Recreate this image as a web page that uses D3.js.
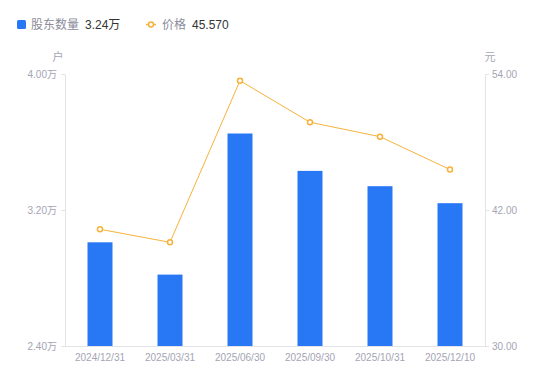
<!DOCTYPE html>
<html>
<head>
<meta charset="utf-8">
<script src="https://cdn.jsdelivr.net/npm/d3@7/dist/d3.min.js"></script>
<style>
  body { margin: 0; background: #fff; }
  svg { font-family: "Liberation Sans", "Noto Sans CJK SC", sans-serif; }
</style>
</head>
<body>
<svg width="550" height="381"></svg>
<script>
const svg = d3.select('svg');

// data
const dates = ['2024/12/31', '2025/03/31', '2025/06/30', '2025/09/30', '2025/10/31', '2025/12/10'];
const holders = [3.01, 2.82, 3.65, 3.43, 3.34, 3.24]; // 万户
const prices = [40.30, 39.15, 53.41, 49.74, 48.47, 45.57];
const leftTicks = [2.4, 3.2, 4.0];
const rightTicks = [30, 42, 54];

const barColor = '#2878f5';
const lineColor = '#f7b23b';
const labelColor = '#a4a4b4';
const axisColor = '#e3e3e8';

const plotLeft = 65, plotRight = 485, plotTop = 74, plotBottom = 346;

const x = d3.scaleBand()
    .domain(dates)
    .range([plotLeft, plotRight])
    .paddingInner(0.643)
    .paddingOuter(0.3215);

const yL = d3.scaleLinear().domain([2.4, 4.0]).range([plotBottom, plotTop]);
const yR = d3.scaleLinear().domain([30, 54]).range([plotBottom, plotTop]);

// axes
const leftAxis = svg.append('g')
    .attr('transform', `translate(${plotLeft},0)`)
    .call(d3.axisLeft(yL).tickValues(leftTicks).tickSize(4).tickPadding(4)
        .tickFormat(d => d3.format('.2f')(d) + '万'));

const rightAxis = svg.append('g')
    .attr('transform', `translate(${plotRight},0)`)
    .call(d3.axisRight(yR).tickValues(rightTicks).tickSize(4).tickPadding(3)
        .tickFormat(d3.format('.2f')));

const bottomAxis = svg.append('g')
    .attr('transform', `translate(0,${plotBottom})`)
    .call(d3.axisBottom(x).tickSize(0).tickPadding(8));

[leftAxis, rightAxis, bottomAxis].forEach(g => {
    g.select('.domain').attr('stroke', axisColor);
    g.selectAll('.tick line').attr('stroke', axisColor);
    g.selectAll('.tick text')
        .attr('fill', labelColor)
        .attr('font-size', 10)
        .attr('font-family', '"Liberation Sans", "Noto Sans CJK SC", sans-serif');
});
bottomAxis.select('.domain').attr('d', `M${plotLeft},0.5H${plotRight}`);

// axis titles
svg.append('text')
    .attr('x', 58).attr('y', 61)
    .attr('text-anchor', 'middle')
    .attr('fill', labelColor).attr('font-size', 11)
    .text('户');
svg.append('text')
    .attr('x', 490).attr('y', 61)
    .attr('text-anchor', 'middle')
    .attr('fill', labelColor).attr('font-size', 11)
    .text('元');

// bars
svg.append('g').selectAll('rect')
    .data(holders)
    .enter().append('rect')
        .attr('x', (d, i) => x(dates[i]))
        .attr('y', d => yL(d))
        .attr('width', x.bandwidth())
        .attr('height', d => plotBottom - yL(d))
        .attr('fill', barColor);

// price line
const cx = i => x(dates[i]) + x.bandwidth() / 2;
const line = d3.line()
    .x((d, i) => cx(i))
    .y(d => yR(d));

svg.append('path')
    .datum(prices)
    .attr('d', line)
    .attr('fill', 'none')
    .attr('stroke', lineColor)
    .attr('stroke-width', 1);

svg.append('g').selectAll('circle')
    .data(prices)
    .enter().append('circle')
        .attr('cx', (d, i) => cx(i))
        .attr('cy', d => yR(d))
        .attr('r', 2.5)
        .attr('fill', '#fff')
        .attr('stroke', lineColor)
        .attr('stroke-width', 1.5);

// legend
const legend = svg.append('g');
legend.append('rect')
    .attr('x', 17).attr('y', 20).attr('width', 9).attr('height', 9)
    .attr('rx', 1.5)
    .attr('fill', barColor);
legend.append('text')
    .attr('x', 31).attr('y', 29)
    .attr('fill', '#8c8c9a').attr('font-size', 12)
    .text('股东数量');
legend.append('text')
    .attr('x', 85).attr('y', 29)
    .attr('fill', '#333').attr('font-size', 12)
    .text(d3.format('.2f')(holders[holders.length - 1]) + '万');

legend.append('line')
    .attr('x1', 146).attr('x2', 156).attr('y1', 24.5).attr('y2', 24.5)
    .attr('stroke', lineColor).attr('stroke-width', 1.5);
legend.append('circle')
    .attr('cx', 151).attr('cy', 24.5).attr('r', 2.5)
    .attr('fill', '#fff').attr('stroke', lineColor).attr('stroke-width', 1.5);
legend.append('text')
    .attr('x', 162).attr('y', 29)
    .attr('fill', '#8c8c9a').attr('font-size', 12)
    .text('价格');
legend.append('text')
    .attr('x', 192).attr('y', 29)
    .attr('fill', '#333').attr('font-size', 12)
    .text(d3.format('.3f')(prices[prices.length - 1]));
</script>
</body>
</html>
